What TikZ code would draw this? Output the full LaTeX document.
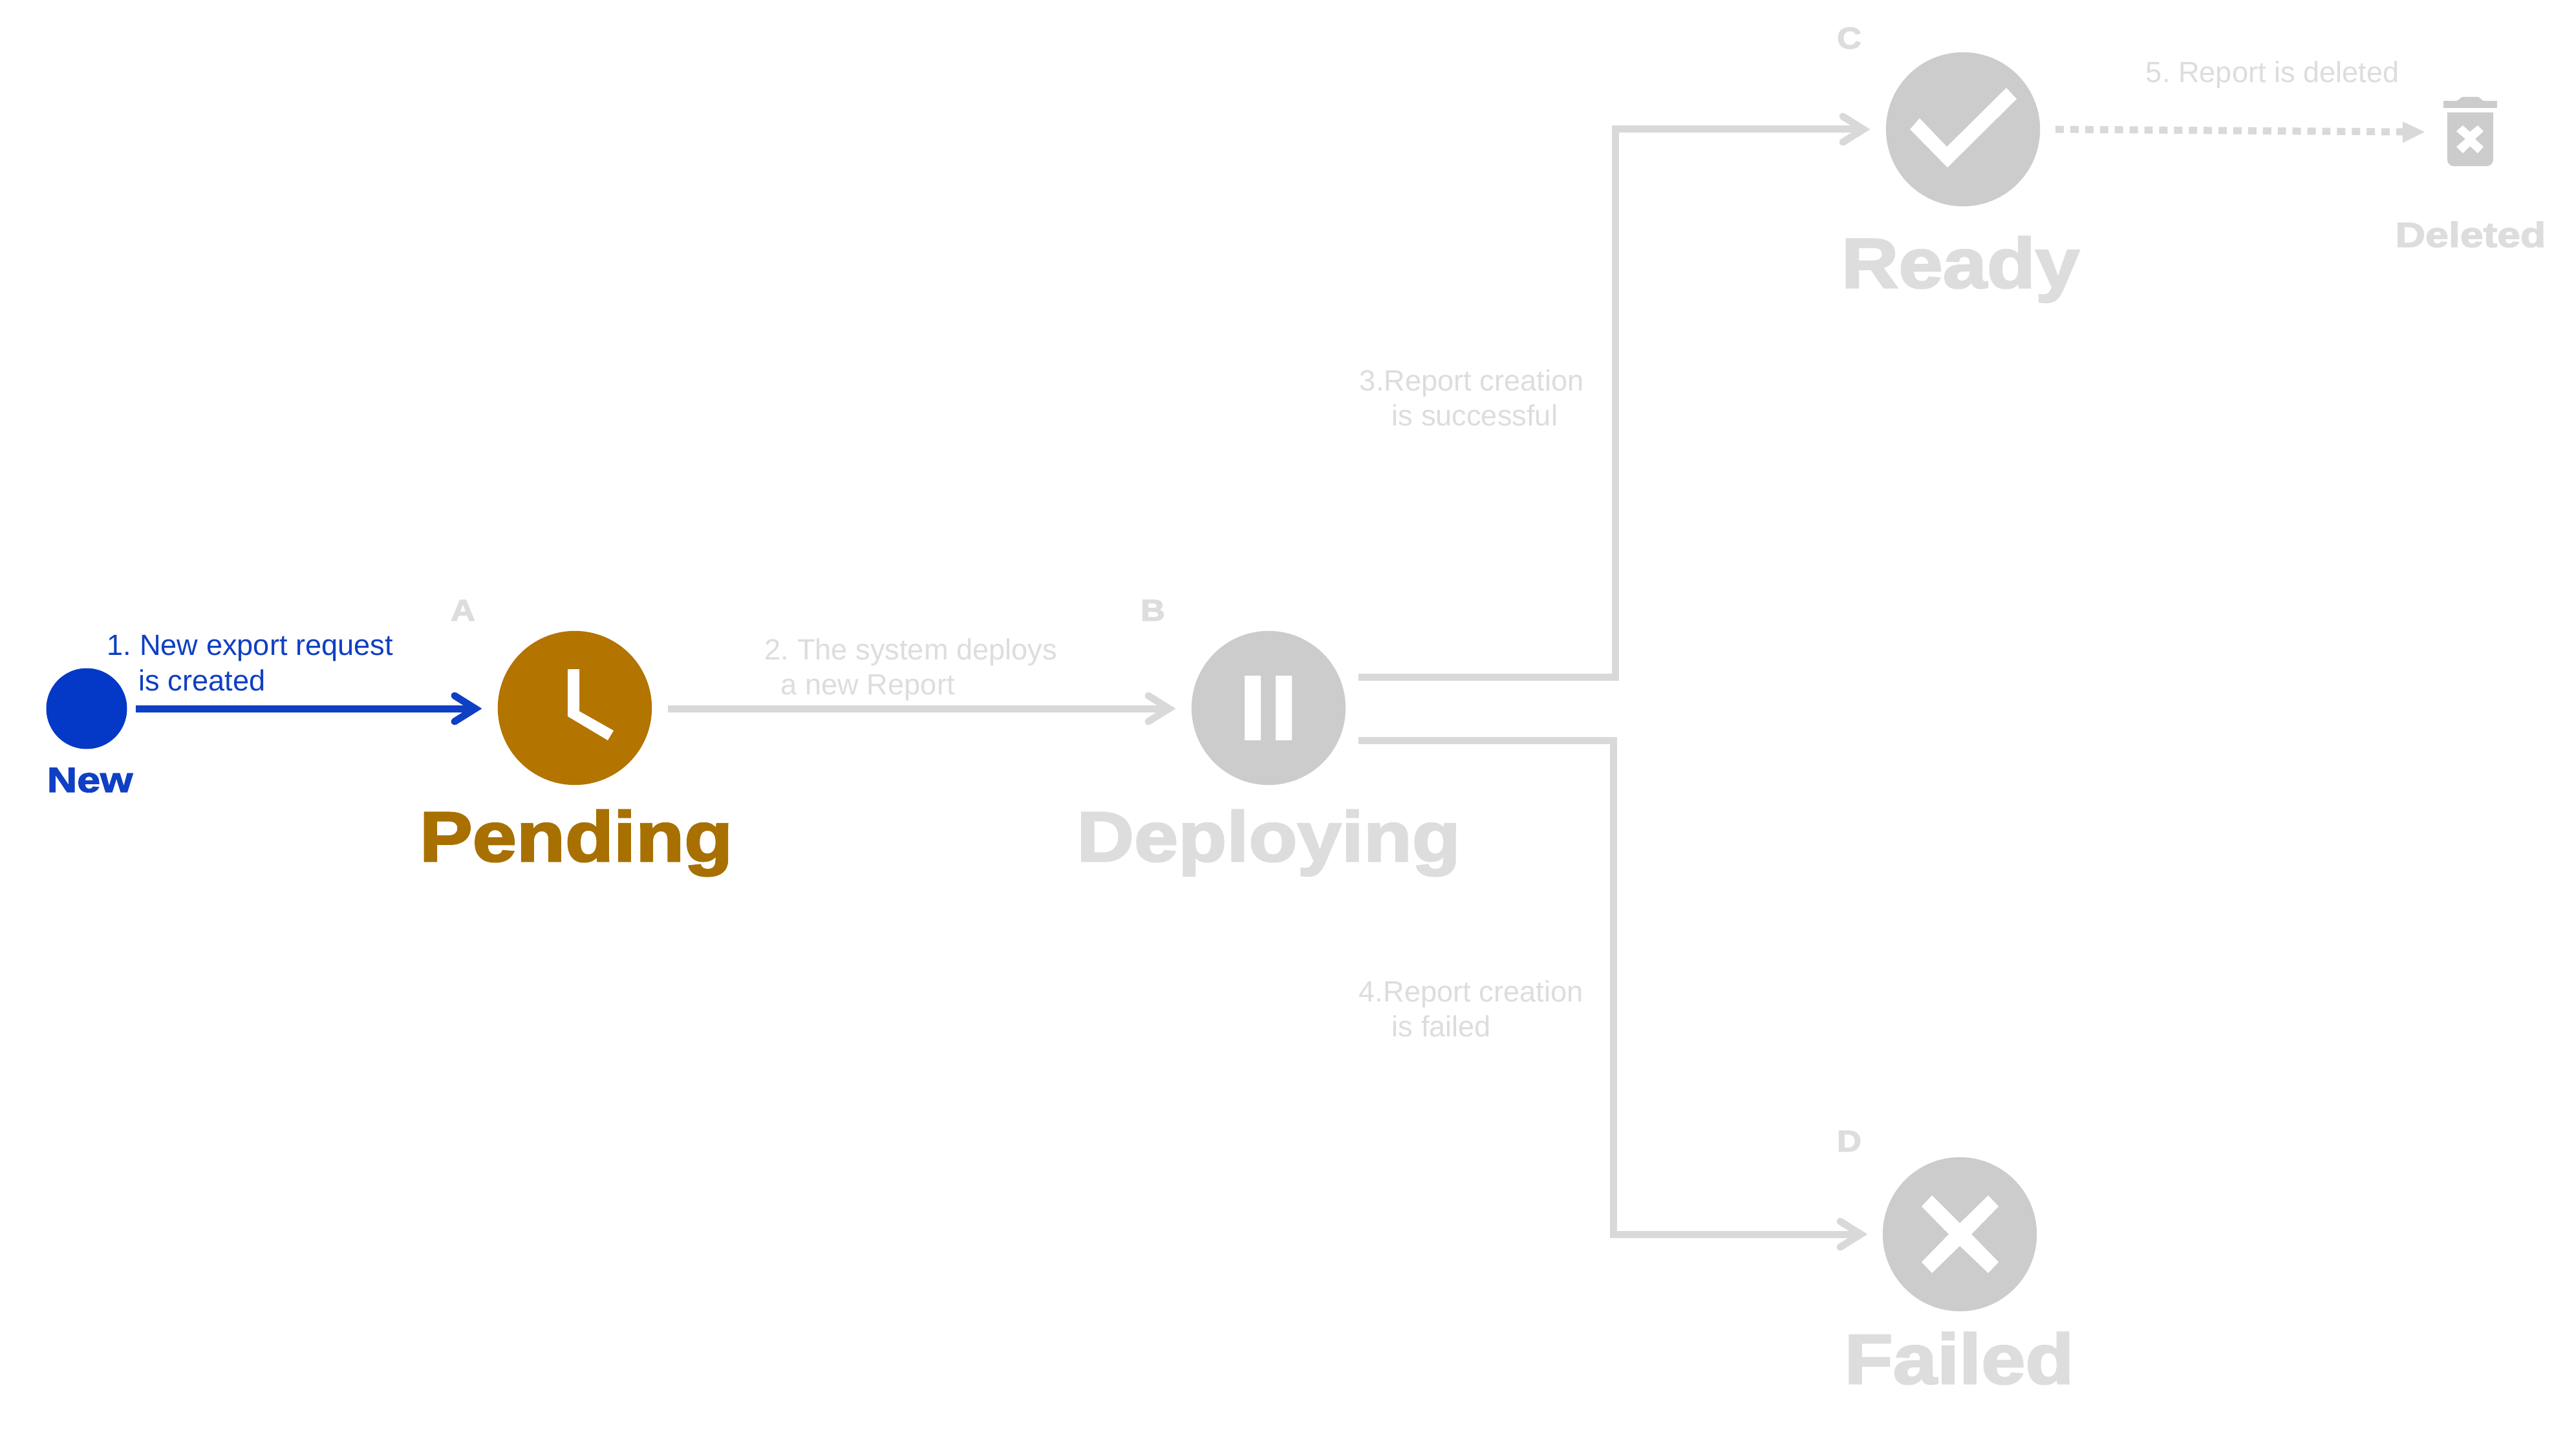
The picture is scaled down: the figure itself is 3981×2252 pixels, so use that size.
\documentclass[tikz,border=0pt]{standalone}
\usepackage{fontspec}
\setmainfont{Liberation Sans}
\newfontfamily\heavy[FakeBold=2.6,FakeStretch=1.125]{Liberation Sans Bold}
\newfontfamily\heavysmall[FakeBold=2.6,FakeStretch=1.19]{Liberation Sans Bold}
\usetikzlibrary{arrows.meta}
\frenchspacing
\definecolor{newblue}{HTML}{0339C6}
\definecolor{lineblue}{HTML}{0F3FC4}
\definecolor{brown}{HTML}{B37400}
\definecolor{brownt}{HTML}{A87000}
\definecolor{disk}{HTML}{CCCCCC}
\definecolor{faded}{HTML}{D9D9D9}
\definecolor{fadedt}{HTML}{DDDDDD}
\newcommand{\hfs}[1]{\fontsize{#1}{#1}\selectfont}
\tikzset{
  x=0.24pt,y=-0.24pt,
  disc/.style={circle,minimum size=57.2pt,inner sep=0pt,fill=disk},
  lab/.style={inner sep=0pt,anchor=base west,font=\hfs{10.85}},
  title/.style={inner sep=0pt,anchor=base,font=\heavy\hfs{26.2}},
  small/.style={inner sep=0pt,anchor=base,font=\heavysmall\hfs{13}},
  letter/.style={inner sep=0pt,anchor=base,font=\heavy\hfs{11.2}},
  conn/.style={line width=2.64pt,faded,line join=miter},
  head/.style={line width=2.64pt,line cap=round,line join=miter},
  pt/.style={coordinate},
}
\begin{document}
\begin{tikzpicture}
\useasboundingbox[fill=white] (0,0) rectangle (3981,2252);
% discs
\node[circle,minimum size=30pt,inner sep=0pt,fill=newblue] (new) at (134,1096) {};
\node[disc,fill=brown] (pending) at (889,1095) {};
\node[disc] (deploying) at (1962,1095) {};
\node[disc] (ready) at (3036,200) {};
\node[disc] (failed) at (3031,1909) {};
% glyphs
\fill[white] (878,1035)--(896,1035)--(896,1100)--(949,1130)--(940,1145)--(878,1108)--cycle;
\fill[white] (1925,1045) rectangle (1950,1145) (1973,1045) rectangle (1998,1145);
\fill[white] (2969,183)--(3011,227)--(3103,136)--(3119,153)--(3012,259)--(2954,200)--cycle;
\fill[white] (2988,1849)--(3031,1892)--(3075,1849)--(3091,1866)--(3049,1909)--(3091,1952)--(3075,1969)--(3031,1927)--(2988,1969)--(2972,1952)--(3014,1909)--(2972,1866)--cycle;
% trash
\fill[disk] (3779,156) rectangle (3862,167);
\fill[disk] (3800,156)--(3808,150)--(3833,150)--(3841,156)--cycle;
\fill[disk] (3785,174)--(3856,174)--(3856,247) arc[start angle=0,end angle=90,radius=10] --(3795,257) arc[start angle=90,end angle=180,radius=10] --cycle;
\fill[white] (3809,194)--(3820,204)--(3832,194)--(3841,203)--(3828,215)--(3841,227)--(3832,237)--(3820,226)--(3809,237)--(3799,227)--(3813,215)--(3799,203)--cycle;
% connector end points
\node[pt] (a1) at (210,1096) {};
\node[pt] (a2) at (730,1096) {};
\node[pt] (b1) at (1033,1096) {};
\node[pt] (b2) at (1800,1096) {};
\node[pt] (c0) at (2101,1047) {};
\node[pt] (c1) at (2498,1047) {};
\node[pt] (c2) at (2498,200) {};
\node[pt] (c3) at (2874,200) {};
\node[pt] (d0) at (2101,1145) {};
\node[pt] (d1) at (2495,1145) {};
\node[pt] (d2) at (2495,1909) {};
\node[pt] (d3) at (2870,1909) {};
\node[pt] (e1) at (3179,200) {};
\node[pt] (e2) at (3716,204) {};
\draw[line width=2.64pt,lineblue] (a1)--(a2);
\draw[conn] (b1)--(b2);
\draw[conn] (c0)--(c1)--(c2)--(c3);
\draw[conn] (d0)--(d1)--(d2)--(d3);
\draw[line width=2.64pt,faded,dash pattern=on 3.1pt off 2.4pt] (e1)--(e2);
% heads
\draw[head,lineblue] (703,1076)--(735,1096)--(703,1116);
\draw[head,faded] (1776,1076)--(1808,1096)--(1776,1116);
\draw[head,faded] (2850,180)--(2882,200)--(2850,220);
\draw[head,faded] (2846,1889)--(2878,1909)--(2846,1929);
\fill[faded] (3716,188)--(3750,204)--(3716,221)--cycle;
% labels
\node[title,text=brownt] (tp) at (891,1332) {Pending};
\node[title,text=fadedt] (td) at (1962,1332) {Deploying};
\node[title,text=fadedt] (tr) at (3032,445) {Ready};
\node[title,text=fadedt] (tf) at (3030,2140) {Failed};
\node[small,text=lineblue] (tn) at (139,1225) {New};
\node[small,text=fadedt] (tx) at (3821,382) {Deleted};
\node[letter,text=fadedt] (la) at (716,960) {A};
\node[letter,text=fadedt] (lb) at (1783,960) {B};
\node[letter,text=fadedt] (lc) at (2860,75) {C};
\node[letter,text=fadedt] (ld) at (2860,1781) {D};
\node[lab,text=lineblue] (t1) at (165,1013) {1. New export request};
\node[lab,text=lineblue] (t1b) at (214,1068) {is created};
\node[lab,text=fadedt] (t2) at (1182,1020) {2. The system deploys};
\node[lab,text=fadedt] (t2b) at (1207,1074) {a new Report};
\node[lab,text=fadedt] (t3) at (2102,605) {3.Report creation};
\node[lab,text=fadedt] (t3b) at (2152,659) {is successful};
\node[lab,text=fadedt] (t4) at (2101,1549) {4.Report creation};
\node[lab,text=fadedt] (t4b) at (2152,1603) {is failed};
\node[lab,text=fadedt] (t5) at (3318,128) {5. Report is deleted};
\end{tikzpicture}
\end{document}
